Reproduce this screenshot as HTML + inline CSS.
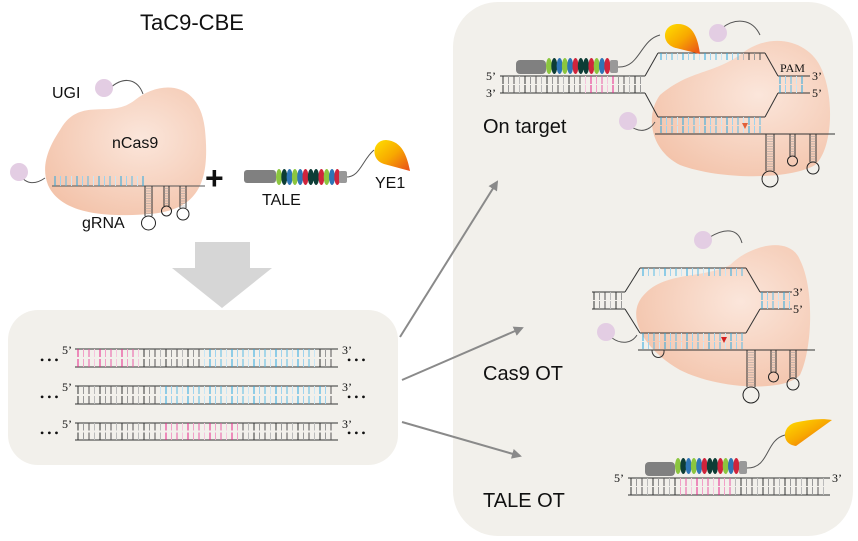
<!DOCTYPE html><html><head><meta charset="utf-8"><style>
body{margin:0;background:#fff}svg{display:block}
text{font-family:"Liberation Sans",Arial,sans-serif;fill:#111}
.s{font-family:"Liberation Serif",serif;font-size:12px}
</style></head><body>
<svg id="g" width="858" height="541" viewBox="0 0 858 541" xmlns="http://www.w3.org/2000/svg">
<defs>
<radialGradient id="pk" cx="0.6" cy="0.4" r="0.7"><stop offset="0" stop-color="#fbe6db"/><stop offset="1" stop-color="#f3c3aa"/></radialGradient>
<linearGradient id="ye" x1="0" y1="0" x2="1" y2="1"><stop offset="0" stop-color="#ffe000"/><stop offset="0.5" stop-color="#f8a800"/><stop offset="1" stop-color="#e84c1c"/></linearGradient>
<marker id="ah" markerWidth="10" markerHeight="10" refX="8" refY="5" orient="auto" markerUnits="userSpaceOnUse"><path d="M0,0 L10,5 L0,10 Z" fill="#8a8a8a"/></marker>
</defs>
<rect x="453" y="2" width="400" height="534" rx="45" fill="#f2f0eb"/>
<rect x="8" y="310" width="390" height="155" rx="30" fill="#f2f0eb"/>
<text x="140" y="30" font-size="22">TaC9-CBE</text>
<path d="M195,242 H250 V268 H272 L222,308 L172,268 H195 Z" fill="#d6d6d6"/>
<path d="M60,130 C80,95 110,120 135,100 C160,80 200,80 205,130 C210,180 200,210 150,214 C100,218 60,212 48,185 C40,165 50,145 60,130 Z" fill="url(#pk)"/>
<path d="M110,88 C125,75 138,80 143,94" stroke="#555" fill="none"/>
<circle cx="104" cy="88" r="9" fill="#e3cde3"/>
<path d="M18,172 C25,185 35,185 45,178" stroke="#555" fill="none"/>
<circle cx="19" cy="172" r="9" fill="#e3cde3"/>
<line x1="52" y1="186" x2="205" y2="186" stroke="#555"/>
<text x="112" y="148" font-size="16">nCas9</text>
<text x="82" y="228" font-size="16">gRNA</text>
<text x="52" y="98" font-size="16">UGI</text>
<text x="205" y="189" font-size="32" font-weight="bold">+</text>
<rect x="244" y="170" width="32" height="13" rx="3" fill="#808080"/>
<text x="262" y="205" font-size="16">TALE</text>
<text x="375" y="188" font-size="16">YE1</text>
<path d="M345,177 C360,178 362,160 374,150" stroke="#555" fill="none"/>
<path d="M386,140 C372,140 370,160 384,164 L410,171 C407,156 402,141 386,140 Z" fill="url(#ye)"/>
<line x1="400" y1="337" x2="497" y2="182" stroke="#8a8a8a" stroke-width="2" marker-end="url(#ah)"/>
<line x1="402" y1="380" x2="522" y2="328" stroke="#8a8a8a" stroke-width="2" marker-end="url(#ah)"/>
<line x1="402" y1="422" x2="520" y2="456" stroke="#8a8a8a" stroke-width="2" marker-end="url(#ah)"/>
<path d="M660,95 C690,70 710,75 740,55 C770,30 810,40 822,70 C835,100 832,150 815,165 C790,180 720,180 680,165 C650,150 645,115 660,95 Z" fill="url(#pk)"/>
<path d="M640,300 C660,270 700,280 730,265 C750,245 790,235 800,260 C815,290 812,350 800,375 C785,392 720,390 680,370 C645,350 628,320 640,300 Z" fill="url(#pk)"/>
<text x="483" y="133" font-size="20">On target</text>
<text x="483" y="380" font-size="20">Cas9 OT</text>
<text x="483" y="507" font-size="20">TALE OT</text>
</svg>
<script>
var NS="http://www.w3.org/2000/svg",svg=document.getElementById('g');
function el(t,a,p){var e=document.createElementNS(NS,t);for(var k in a)e.setAttribute(k,a[k]);(p||svg).appendChild(e);return e;}
function ln(x1,y1,x2,y2,c,w){el('line',{x1:x1,y1:y1,x2:x2,y2:y2,stroke:c,'stroke-width':w||1});}
function tx(x,y,s,cls,fs){var t=el('text',{x:x,y:y,'class':cls||'s'});if(fs)t.setAttribute('font-size',fs);t.textContent=s;}
function ticks(x1,x2,y1,y2,colf){var n=0;for(var x=x1;x<=x2;x+=5.5){ln(x,y1,x,y2,colf(n,x));n++;}}
var blues=['#2aa8e0','#9fd3ee','#5bbbe6','#c8e6f5'];
function bl(n){return blues[n%4];}
var pinks=['#e8258a','#f2a0c8','#ea5aa5','#f6c5dd'];
function pk(n){return pinks[n%4];}
function gr(n){return ['#333','#999','#555','#bbb'][n%4];}
ticks(55,143,176,186,bl);
function hairpin(x,y,len,r,w){w=w||6;ln(x,y,x,y+len,'#333');ln(x+w,y,x+w,y+len,'#333');for(var i=y+2.5;i<y+len;i+=2.5)ln(x,i,x+w,i,'#999',0.5);el('circle',{cx:x+w/2,cy:y+len+r,r:r,fill:'none',stroke:'#222'});}
hairpin(145,186,30,7,7);hairpin(164,186,20,5,5);hairpin(180,186,22,6,6);
function tale(x0,y,cols,p){for(var i=0;i<cols.length;i++){el('ellipse',{cx:x0+i*5.3,cy:y,rx:3,ry:8,fill:cols[i]},p);}}
var TC=['#8cc63f','#0d3d36','#2e75b6','#8cc63f','#2e75b6','#d0243c','#0d3d36','#0d3d36','#d0243c','#8cc63f','#2e75b6','#d0243c'];
tale(279,177,TC);el('rect',{x:339,y:171,width:8,height:12,rx:2,fill:'#999'});
var rows=[[349,367,function(n,x){return x<140?pk(n):(x>200&&x<320?bl(n):gr(n));}],[386,404,function(n,x){return x>160&&x<330?bl(n):gr(n);}],[423,440,function(n,x){return x>165&&x<240?pk(n):gr(n);}]];
rows.forEach(function(r){ln(75,r[0],338,r[0],'#333');ln(75,r[1],338,r[1],'#333');var m=(r[0]+r[1])/2;ticks(78,336,r[0],m-1,r[2]);ticks(78,336,m+1,r[1],r[2]);tx(62,r[0]+5,'5’');tx(342,r[0]+5,'3’');tx(40,r[1]-3,'• • •','s',8);tx(347,r[1]-3,'• • •','s',8);});
tx(486,80,'5’');tx(486,97,'3’');
ln(500,76,645,76,'#333');ln(500,93,645,93,'#333');
var of=function(n,x){return x>585&&x<615?pk(n):gr(n);};ticks(503,642,76,84,of);ticks(503,642,85,93,of);
ln(645,76,658,53,'#333');ln(658,53,765,53,'#333');ln(765,53,778,76,'#333');ln(778,76,810,76,'#333');
ticks(661,762,53,60,function(n,x){return x<740?bl(n):gr(n);});
ln(645,93,658,117,'#333');ln(658,117,765,117,'#333');ln(765,117,778,93,'#333');ln(778,93,810,93,'#333');
ticks(780,805,76,84,bl);ticks(780,805,85,93,bl);
tx(812,80,'3’');tx(812,97,'5’');tx(780,72,'PAM','',10);
ticks(661,762,117,125,bl);ticks(661,762,126,133,bl);ln(655,134,835,134,'#333');
el('path',{d:'M742,123 L748,123 L745,129 Z',fill:'#e0603a'});
hairpin(766,134,37,8,8);hairpin(790,134,22,5,5);hairpin(810,134,28,6,6);
el('rect',{x:516,y:60,width:30,height:14,rx:4,fill:'#808080'});tale(549,66,TC);
el('rect',{x:610,y:60,width:8,height:13,rx:2,fill:'#999'});
el('path',{d:'M618,67 C640,68 640,40 660,35',stroke:'#555',fill:'none'});
el('path',{d:'M678,24 C662,24 660,44 676,48 L700,54 C698,40 694,24 678,24 Z',fill:'url(#ye)'});
el('path',{d:'M722,28 C735,18 752,18 760,35',stroke:'#555',fill:'none'});
el('circle',{cx:718,cy:33,r:9,fill:'#e3cde3'});
el('path',{d:'M628,124 C640,135 650,130 655,122',stroke:'#555',fill:'none'});
el('circle',{cx:628,cy:121,r:9,fill:'#e3cde3'});
ln(592,292,625,292,'#333');ln(592,309,625,309,'#333');ticks(594,622,292,300,gr);ticks(594,622,301,309,gr);
ln(625,292,640,268,'#333');ln(640,268,746,268,'#333');ln(746,268,760,292,'#333');ln(760,292,792,292,'#333');
ticks(643,743,268,276,bl);
ln(625,309,640,333,'#333');ln(640,333,746,333,'#333');ln(746,333,760,309,'#333');ln(760,309,792,309,'#333');
ticks(762,790,292,300,bl);ticks(762,790,301,309,bl);
tx(793,296,'3’');tx(793,313,'5’');
ticks(643,743,333,341,bl);ticks(643,743,342,349,bl);ln(638,350,815,350,'#333');
el('path',{d:'M721,337 L727,337 L724,343 Z',fill:'#d32020'});
el('path',{d:'M652,350 C652,360 665,360 664,350',stroke:'#333',fill:'none'});
hairpin(747,350,37,8,8);hairpin(771,350,22,5,5);hairpin(790,350,28,6,6);
el('path',{d:'M710,237 C725,228 738,228 742,243',stroke:'#555',fill:'none'});
el('circle',{cx:703,cy:240,r:9,fill:'#e3cde3'});
el('path',{d:'M612,338 C622,345 632,343 637,335',stroke:'#555',fill:'none'});
el('circle',{cx:606,cy:332,r:9,fill:'#e3cde3'});
ln(628,478,830,478,'#333');ln(628,495,830,495,'#333');
var tf=function(n,x){return x>675&&x<735?pk(n):gr(n);};ticks(631,827,478,486,tf);ticks(631,827,487,495,tf);
tx(614,482,'5’');tx(832,482,'3’');
el('rect',{x:645,y:462,width:30,height:14,rx:4,fill:'#808080'});tale(678,466,TC);
el('rect',{x:739,y:461,width:8,height:13,rx:2,fill:'#999'});
el('path',{d:'M747,468 C770,468 765,440 785,435',stroke:'#555',fill:'none'});
el('path',{d:'M798,422 C782,424 780,444 796,446 L832,420 C820,418 810,420 798,422 Z',fill:'url(#ye)'});
</script>
</body></html>
